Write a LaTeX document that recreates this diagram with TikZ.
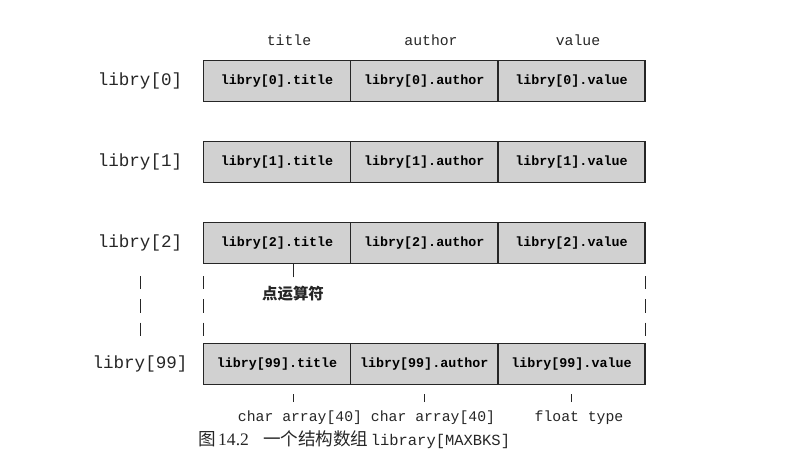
\documentclass[tikz,border=0pt]{standalone}
\usepackage{fontspec}
\setmainfont{Liberation Serif}
\setmonofont{Liberation Mono}
\newfontfamily\cjk{Noto Sans CJK SC}
\usetikzlibrary{positioning}

\begin{document}
\begin{tikzpicture}[x=0.025cm, y=-0.025cm,
      cell/.style={draw=black!85, line width=1.1pt, fill=black!18, minimum width=3.68cm,
                   minimum height=1.02cm, inner sep=0pt, outer sep=0pt,
                   font=\ttfamily\bfseries\fontsize{9.5}{10}\selectfont},
      rowlabel/.style={font=\ttfamily\fontsize{12.5}{13}\selectfont, text=black!85},
      head/.style={font=\ttfamily\fontsize{10.5}{11}\selectfont, text=black!85},
      tick/.style={draw=black!85, line width=0.6pt},
      gap/.style={draw=black!85, line width=0.6pt, dash pattern=on 0.33cm off 0.25cm}
  ]
  \useasboundingbox (0,0) rectangle (793,472);

  %% ---- Column heads ----
  \node[head] (htitle) at (289,40) {title};
  \node[head] (hauthor) at (431,40) {author};
  \node[head] (hvalue) at (578,40) {value};

  %% ---- Rows of the array ----
  \foreach \i/\y in {0/81,1/162,2/243,99/364}{
    \node[rowlabel] (lbl\i) at (140,\y) {libry[\i]};
    \node[cell] (t\i) at (277,\y) {libry[\i].title};
    \node[cell, right=0pt of t\i] (a\i) {libry[\i].author};
    \node[cell, right=0pt of a\i] (v\i) {libry[\i].value};
  }

  %% ---- Gap between libry[2] and libry[99] ----
  \draw[gap, shorten <=0.32cm, shorten >=0.15cm] (lbl2.south |- t2.south) -- (lbl99.north |- t99.north);
  \draw[gap, shorten <=0.32cm, shorten >=0.15cm] (t2.south west) -- (t99.north west);
  \draw[gap, shorten <=0.32cm, shorten >=0.15cm] (v2.south east) -- (v99.north east);

  %% ---- Dot operator ----
  \node[font=\cjk\bfseries\fontsize{11}{12}\selectfont, text=black!85] (dotop) at (293,294) {点运算符};
  \draw[tick, shorten <=0.1cm] (dotop.north) -- (dotop.north |- t2.south);

  %% ---- Member types ----
  \node[head] (ctitle) at (300,418) {char array[40]};
  \node[head] (cauthor) at (433,418) {char array[40]};
  \node[head] (cvalue) at (579,418) {float type};

  \draw[tick, shorten <=0.1cm, shorten >=0.25cm] (ctitle.north -| dotop) -- (t99.south -| dotop);
  \draw[tick, shorten <=0.1cm, shorten >=0.25cm] (cauthor.north -| a99) -- (a99.south);
  \draw[tick, shorten <=0.1cm, shorten >=0.25cm] (cvalue.north -| v99) -- (v99.south);

  %% ---- Caption ----
  \node[anchor=west, inner sep=0pt, text=black!85] (caption) at (198,440)
      {{\cjk\fontsize{12.5}{13}\selectfont 图}\,{\fontsize{12.5}{13}\selectfont 14.2}\quad
       {\cjk\fontsize{12.5}{13}\selectfont 一个结构数组}\,{\ttfamily\fontsize{11}{12}\selectfont library[MAXBKS]}};

\end{tikzpicture}
\end{document}
